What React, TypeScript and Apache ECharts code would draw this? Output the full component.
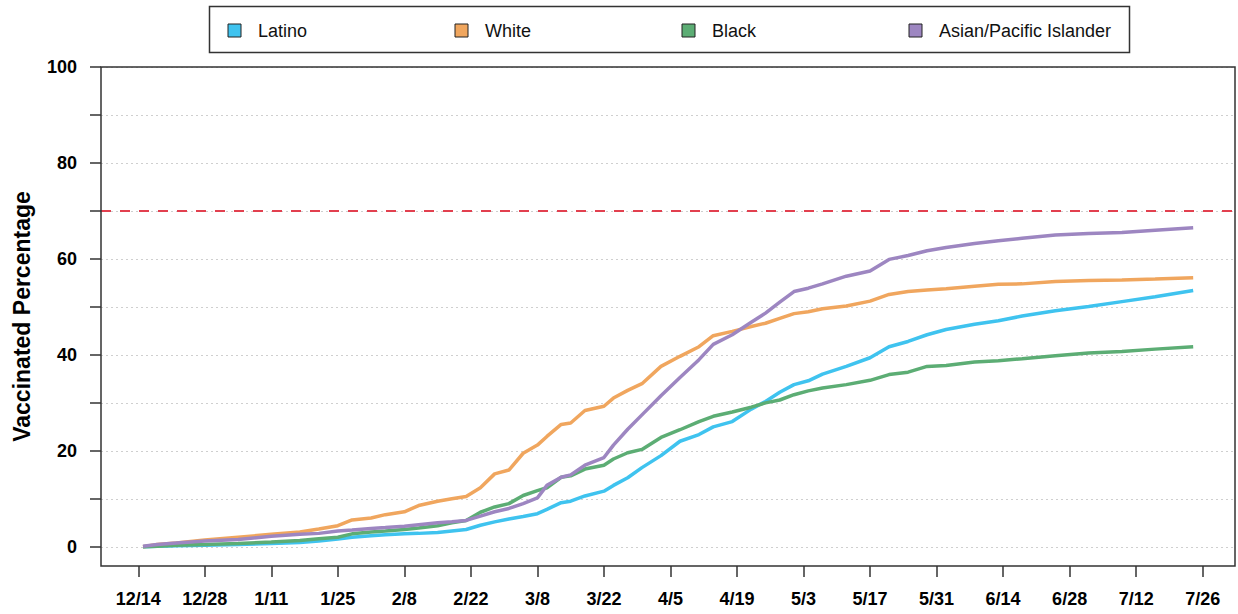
import React, { useEffect, useRef } from "react";
import * as echarts from "echarts";

// days since 12/14 (2020)
const days = [1, 4, 8, 14, 21, 28, 34, 38, 42, 45, 49, 52, 56, 59, 63, 66, 69, 72, 75, 78, 81, 84, 86, 89, 91, 94, 98, 100, 103, 106, 110, 114, 118, 121, 125, 129, 132, 135, 138, 141, 144, 149, 154, 158, 162, 166, 170, 176, 181, 186, 193, 200, 207, 214, 222];

const latino = [0, 0.1, 0.2, 0.3, 0.5, 0.7, 0.9, 1.2, 1.6, 2.0, 2.3, 2.5, 2.7, 2.8, 3.0, 3.3, 3.6, 4.5, 5.2, 5.8, 6.3, 6.9, 7.8, 9.2, 9.5, 10.6, 11.6, 12.8, 14.4, 16.5, 19.0, 22.0, 23.4, 25.0, 26.1, 28.7, 30.3, 32.2, 33.8, 34.6, 36.0, 37.6, 39.4, 41.7, 42.8, 44.2, 45.3, 46.4, 47.1, 48.1, 49.2, 50.1, 51.1, 52.1, 53.4];

const white = [0, 0.5, 0.8, 1.4, 2.0, 2.6, 3.1, 3.7, 4.4, 5.6, 6.0, 6.7, 7.3, 8.6, 9.5, 10.0, 10.5, 12.3, 15.2, 16.0, 19.5, 21.2, 23.0, 25.5, 25.8, 28.4, 29.3, 31.0, 32.6, 34.0, 37.6, 39.7, 41.7, 44.0, 44.9, 45.9, 46.6, 47.6, 48.6, 49.0, 49.6, 50.2, 51.2, 52.6, 53.2, 53.5, 53.8, 54.3, 54.7, 54.8, 55.3, 55.5, 55.6, 55.8, 56.1];

const black = [0, 0.1, 0.3, 0.5, 0.7, 1.0, 1.3, 1.7, 2.0, 2.7, 3.1, 3.3, 3.6, 3.9, 4.4, 5.0, 5.5, 7.2, 8.3, 9.0, 10.7, 11.7, 12.3, 14.5, 14.8, 16.2, 17.0, 18.3, 19.6, 20.3, 22.8, 24.4, 26.1, 27.2, 28.1, 29.1, 30.0, 30.6, 31.7, 32.5, 33.1, 33.8, 34.7, 35.9, 36.4, 37.6, 37.8, 38.5, 38.8, 39.2, 39.8, 40.4, 40.7, 41.2, 41.7];

const asianPI = [0.1, 0.5, 0.8, 1.2, 1.5, 2.2, 2.6, 2.8, 3.3, 3.5, 3.8, 4.0, 4.3, 4.6, 5.0, 5.2, 5.5, 6.4, 7.3, 8.0, 9.0, 10.2, 12.8, 14.5, 15.0, 17.0, 18.6, 21.2, 24.5, 27.5, 31.5, 35.3, 39.0, 42.2, 44.2, 46.8, 48.7, 51.0, 53.2, 53.9, 54.8, 56.4, 57.5, 59.9, 60.7, 61.7, 62.4, 63.2, 63.8, 64.3, 65.0, 65.3, 65.5, 66.0, 66.5];

const seriesNames = ["Latino", "White", "Black", "Asian/Pacific Islander"];
const seriesValues = [latino, white, black, asianPI];
const seriesColors = ["#3fc3ef", "#f0a65e", "#5cad74", "#9d86c1"];

const xTickLabels = ["12/14", "12/28", "1/11", "1/25", "2/8", "2/22", "3/8", "3/22", "4/5", "4/19", "5/3", "5/17", "5/31", "6/14", "6/28", "7/12", "7/26"];
const xTickDays = xTickLabels.map((_, i) => i * 14);
const yTicks = [0, 10, 20, 30, 40, 50, 60, 70, 80, 90, 100];
const yLabels = [0, 20, 40, 60, 80, 100];
const targetLine = 70;

const FONT = '"Liberation Sans", Arial, sans-serif';

export default function App() {
  const ref = useRef<HTMLDivElement>(null);
  useEffect(() => {
    if (!ref.current) return;
    const chart = echarts.init(ref.current, undefined, { renderer: "svg" });

    const series: any[] = seriesNames.map((name, si) => ({
      name,
      type: "line",
      data: days.map((d, i) => [d, seriesValues[si][i]]),
      showSymbol: false,
      symbol: "none",
      lineStyle: { color: seriesColors[si], width: 3.5 },
      itemStyle: { color: seriesColors[si] },
      z: 3 + si,
    }));
    series[0].markLine = {
      silent: true,
      symbol: "none",
      label: { show: false },
      lineStyle: { color: "#e2404f", type: [10, 9], width: 2 },
      data: [{ yAxis: targetLine }],
    };

    const legendItems: any[] = [];
    seriesNames.forEach((name, i) => {
      const x0 = 228 + i * 227;
      legendItems.push({
        type: "rect",
        shape: { x: x0, y: 24, width: 13, height: 13 },
        style: { fill: seriesColors[i], stroke: "#222", lineWidth: 1 },
      });
      legendItems.push({
        type: "text",
        x: x0 + 30,
        y: 31,
        style: {
          text: name,
          fontSize: 18,
          fontFamily: FONT,
          fill: "#111",
          verticalAlign: "middle",
        },
      });
    });

    chart.setOption({
      animation: false,
      backgroundColor: "#ffffff",
      grid: {
        left: 101,
        right: 3,
        top: 67,
        bottom: 48,
        show: true,
        borderColor: "#333",
        borderWidth: 1.5,
        backgroundColor: "transparent",
        z: 10,
      },
      xAxis: {
        type: "value",
        min: -7.84,
        max: 230.8,
        axisLine: { show: false, onZero: false },
        axisTick: {
          show: true,
          customValues: xTickDays,
          length: 11,
          lineStyle: { color: "#333", width: 1.5 },
        },
        axisLabel: {
          customValues: xTickDays,
          formatter: (v: number) => xTickLabels[Math.round(v / 14)] ?? "",
          margin: 24,
          fontSize: 18,
          fontWeight: "bold",
          fontFamily: FONT,
          color: "#000",
        },
        splitLine: { show: false },
      },
      yAxis: {
        type: "value",
        min: -4,
        max: 100,
        name: "Vaccinated Percentage",
        nameLocation: "middle",
        nameGap: 68,
        nameTextStyle: { fontSize: 23, fontWeight: "bold", fontFamily: FONT, color: "#000" },
        axisLine: { show: false, onZero: false },
        axisTick: {
          show: true,
          customValues: yTicks,
          length: 11,
          lineStyle: { color: "#333", width: 1.5 },
        },
        axisLabel: {
          customValues: yLabels,
          margin: 24,
          fontSize: 18,
          fontWeight: "bold",
          fontFamily: FONT,
          color: "#000",
        },
        splitLine: {
          show: true,
          lineStyle: { color: "#cfcfcf", type: [2, 3], width: 1 },
        },
      },
      graphic: [
        {
          type: "rect",
          shape: { x: 209.5, y: 6.5, width: 920, height: 46 },
          style: { fill: "#fff", stroke: "#333", lineWidth: 1.5 },
        },
        ...legendItems,
      ],
      series,
    });
    return () => chart.dispose();
  }, []);
  return (
    <div
      ref={ref}
      style={{ position: "fixed", left: 0, top: 0, width: 1238, height: 614 }}
    />
  );
}
